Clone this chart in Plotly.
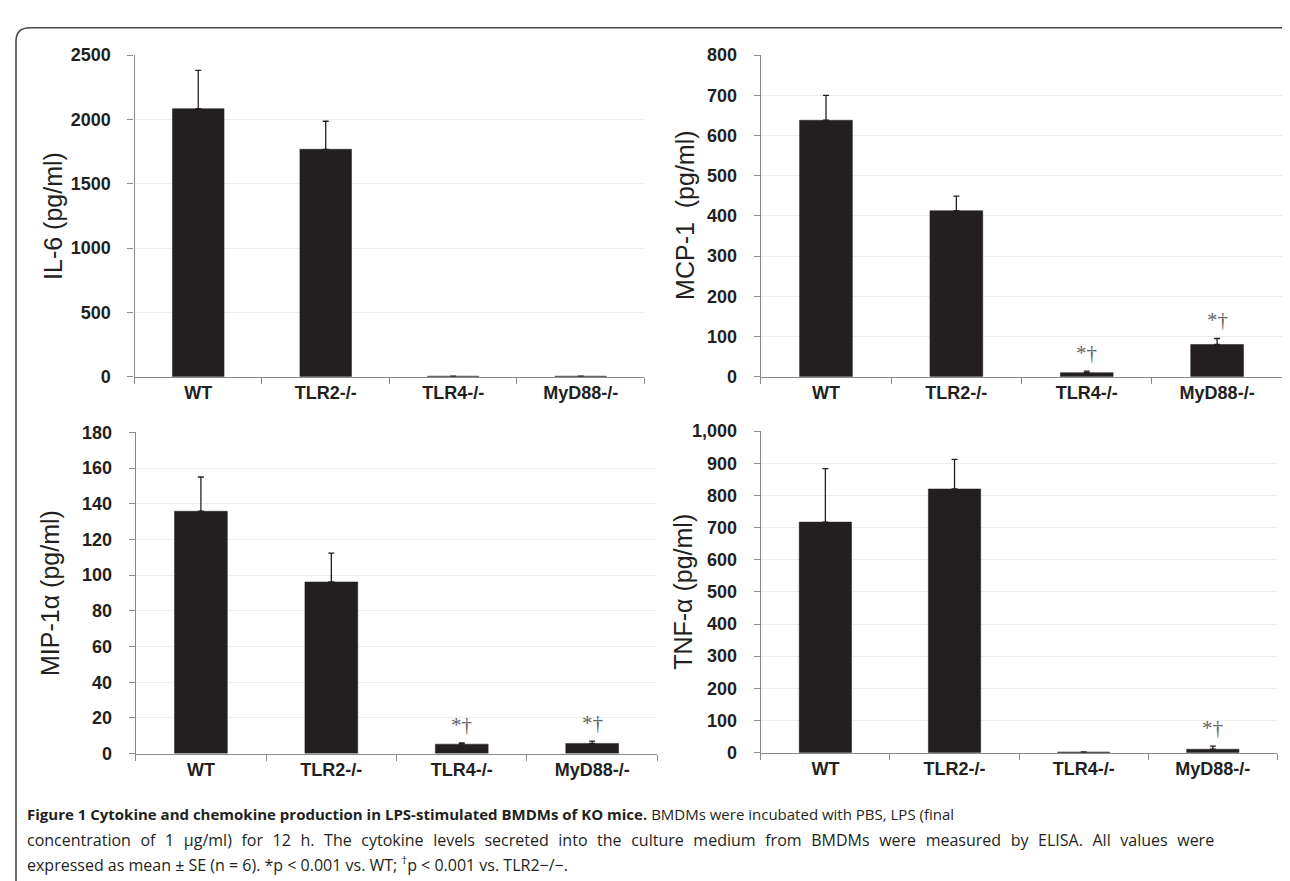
import plotly.graph_objects as go

W, H = 1290, 881

categories = ["WT", "TLR2-/-", "TLR4-/-", "MyD88-/-"]

il6 = [2084, 1768, 4, 4]
il6_se = [297, 218, 0, 0]
mcp1 = [638, 413, 10, 80]
mcp1_se = [62, 36, 4, 15]
mip1a = [135.8, 96.2, 5.3, 5.7]
mip1a_se = [19.2, 16.1, 0.7, 1.3]
tnfa = [717, 820, 2, 10.6]
tnfa_se = [166, 92, 0, 9.4]

sig_mcp1 = ["", "", "*†", "*†"]
sig_mip1a = ["", "", "*†", "*†"]
sig_tnfa = ["", "", "", "*†"]

y_titles = ["IL-6 (pg/ml)", "MCP-1  (pg/ml)", "MIP-1α (pg/ml)", "TNF-α (pg/ml)"]
y_ranges = [[0, 2500], [0, 800], [0, 180], [0, 1000]]
y_dticks = [500, 100, 20, 100]
y_formats = ["d", "d", "d", ",d"]

caption_bold = "Figure 1 Cytokine and chemokine production in LPS-stimulated BMDMs of KO mice."
caption_line1 = "BMDMs were incubated with PBS, LPS (final"
caption_line2 = ("concentration of 1 μg/ml) for 12 h. The cytokine levels secreted into the culture "
                 "medium from BMDMs were measured by ELISA. All values were")
caption_line3 = "expressed as mean ± SE (n = 6). *p < 0.001 vs. WT; <sup>†</sup>p < 0.001 vs. TLR2−/−."


def px(x):
    return x / W


def py(y):
    return 1 - y / H


# panel boxes in pixels: (left, right, top, bottom)
panels = [
    (126.5, 636.4, 38, 367),
    (752.8, 1274.3, 38, 367),
    (127.7, 649.4, 424, 752.7),
    (752.8, 1269.4, 422.7, 751.7),
]
title_x = [45, 677, 42, 675]

series = [(il6, il6_se, None), (mcp1, mcp1_se, sig_mcp1), (mip1a, mip1a_se, sig_mip1a), (tnfa, tnfa_se, sig_tnfa)]

fig = go.Figure()
tick_font = dict(family="Liberation Sans, Arial", size=18, color="#231f20", weight="bold")
annotations = []

for i, ((vals, se, sig), box) in enumerate(zip(series, panels)):
    sfx = "" if i == 0 else str(i + 1)
    fig.add_trace(go.Bar(
        x=categories, y=vals,
        xaxis="x" + sfx, yaxis="y" + sfx,
        marker=dict(color="#231f20", line=dict(color="#231f20", width=0.5)),
        error_y=dict(type="data", array=se, arrayminus=[0] * len(se), symmetric=False,
                     color="#231f20", thickness=1.3, width=3),
        showlegend=False,
    ))
    l, r, t, b = box
    xa = dict(
        domain=[px(l), px(r)], anchor="y" + sfx,
        showline=True, linecolor="#8a8a8a", linewidth=1.2,
        ticks="outside", tickson="boundaries", ticklen=6, tickcolor="#8a8a8a",
        tickfont=tick_font, showgrid=False, ticklabelstandoff=0,
        categoryorder="array", categoryarray=categories,
    )
    ya = dict(
        domain=[py(b), py(t)], anchor="x" + sfx,
        range=y_ranges[i], dtick=y_dticks[i], tickformat=y_formats[i],
        showline=True, linecolor="#8a8a8a", linewidth=1.2,
        ticks="outside", ticklen=6, tickcolor="#8a8a8a",
        tickfont=tick_font, showgrid=True, gridcolor="#ececec", gridwidth=1,
        zeroline=False, ticklabelstandoff=13,
    )
    fig.update_layout(**{"xaxis" + sfx: xa, "yaxis" + sfx: ya})
    annotations.append(dict(
        text=y_titles[i], x=px(title_x[i]), y=py((t + b) / 2), xref="paper", yref="paper",
        textangle=-90, showarrow=False, xanchor="center", yanchor="middle",
        font=dict(family="Liberation Sans, Arial", size=25, color="#231f20"),
    ))
    if sig:
        for c, v, e, s in zip(categories, vals, se, sig):
            if s:
                annotations.append(dict(
                    text=s, x=c, y=v + e, xref="x" + sfx, yref="y" + sfx,
                    showarrow=False, yanchor="bottom", yshift=4,
                    font=dict(family="Liberation Serif, DejaVu Serif", size=21, color="#666666"),
                ))

cap_font = dict(family="Open Sans, Noto Sans", size=16, color="#231f20")
annotations.append(dict(
    text="<b>" + caption_bold + "</b> " + caption_line1, x=px(17), y=py(815),
    xref="paper", yref="paper", xanchor="left", yanchor="middle", showarrow=False,
    font=dict(family="Open Sans, Noto Sans", size=15, color="#231f20"),
))
annotations.append(dict(
    text=caption_line2.replace(" ", "\u2002\u200a"), x=px(17), y=py(841), xref="paper", yref="paper",
    xanchor="left", yanchor="middle", showarrow=False, font=cap_font,
))
annotations.append(dict(
    text=caption_line3, x=px(17), y=py(866), xref="paper", yref="paper",
    xanchor="left", yanchor="middle", showarrow=False, font=cap_font,
))

# rounded frame
L, T, R, B, rad = 8, 10, 1288, 905, 14
path = (f"M {px(L)},{py(B)} L {px(L)},{py(T + rad)} Q {px(L)},{py(T)} {px(L + rad)},{py(T)} "
        f"L {px(R - rad)},{py(T)} Q {px(R)},{py(T)} {px(R)},{py(T + rad)} L {px(R)},{py(B)}")
fig.add_shape(type="path", path=path, xref="paper", yref="paper",
              line=dict(color="#4a4a4a", width=1.6))

fig.update_layout(
    width=W, height=H, margin=dict(l=0, r=0, t=0, b=0),
    paper_bgcolor="white", plot_bgcolor="white",
    bargap=0.595, annotations=annotations,
)

fig.write_html("out.html")
